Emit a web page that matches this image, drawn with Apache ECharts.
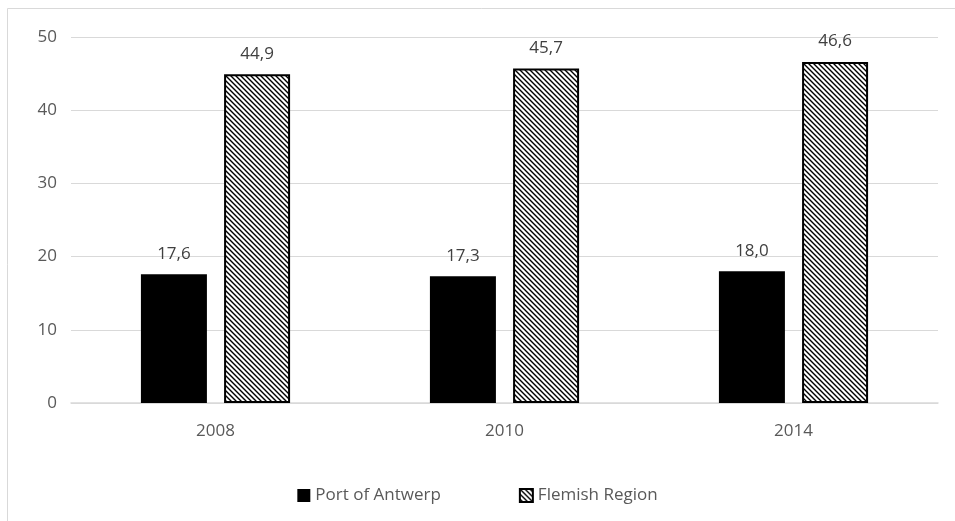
<!DOCTYPE html>
<html>
<head>
<meta charset="utf-8">
<script src="https://cdn.jsdelivr.net/npm/echarts@6/dist/echarts.min.js"></script>
<style>
  html, body { margin: 0; padding: 0; background: #ffffff; }
  #chart { width: 955px; height: 521px; }
</style>
</head>
<body>
<div id="chart"></div>
<script>
const categories = ['2008', '2010', '2014'];
const portOfAntwerp = [17.6, 17.3, 18.0];
const flemishRegion = [44.9, 45.7, 46.6];
const seriesNames = ['Port of Antwerp', 'Flemish Region'];

// Diagonal hatch tile used to fill the regional bars
function makeHatch() {
  const size = 5;
  const c = document.createElement('canvas');
  c.width = size; c.height = size;
  const ctx = c.getContext('2d');
  ctx.fillStyle = '#ffffff';
  ctx.fillRect(0, 0, size, size);
  ctx.strokeStyle = '#000000';
  ctx.lineWidth = 1.4;
  ctx.beginPath();
  ctx.moveTo(-1, -1); ctx.lineTo(size + 1, size + 1);
  ctx.moveTo(-1, size - 1); ctx.lineTo(1, size + 1);
  ctx.moveTo(size - 1, -1); ctx.lineTo(size + 1, 1);
  ctx.stroke();
  return c;
}

const fmt = v => v.toFixed(1).replace('.', ',');
const font = '"Open Sans", "Liberation Sans", sans-serif';
const fs = 17;

const chart = echarts.init(document.getElementById('chart'), null, { renderer: 'canvas' });
chart.setOption({
  animation: false,
  backgroundColor: '#ffffff',
  textStyle: { fontFamily: font },
  graphic: [{
    type: 'polyline',
    shape: { points: [[7.5, 521], [7.5, 8.5], [955, 8.5]] },
    style: { stroke: '#d9d9d9', lineWidth: 1, fill: null },
    silent: true
  }],
  grid: { left: 71, right: 17, top: 37, bottom: 118, containLabel: false },
  legend: {
    data: seriesNames.map(n => ({ name: n, icon: 'rect' })),
    bottom: 12,
    left: 'center',
    itemWidth: 13,
    itemHeight: 13,
    itemGap: 78,
    textStyle: { color: '#595959', fontSize: fs, fontFamily: font }
  },
  xAxis: {
    type: 'category',
    data: categories,
    axisLine: { lineStyle: { color: '#d9d9d9', width: 1.5 } },
    axisTick: { show: false },
    axisLabel: { color: '#595959', fontSize: fs, margin: 20, fontFamily: font }
  },
  yAxis: {
    type: 'value',
    min: 0,
    max: 50,
    interval: 10,
    axisLine: { show: false },
    axisTick: { show: false },
    splitLine: { lineStyle: { color: '#d9d9d9', width: 1.2 } },
    axisLabel: { color: '#595959', fontSize: fs, margin: 14, fontFamily: font }
  },
  series: [
    {
      name: seriesNames[0],
      type: 'bar',
      data: portOfAntwerp,
      barWidth: 66,
      barGap: '26%',
      itemStyle: { color: '#000000' },
      label: {
        show: true, position: 'top', distance: 12,
        color: '#404040', fontSize: fs, fontFamily: font,
        formatter: p => fmt(p.value)
      }
    },
    {
      name: seriesNames[1],
      type: 'bar',
      data: flemishRegion,
      barWidth: 66,
      itemStyle: {
        color: { image: makeHatch(), repeat: 'repeat' },
        borderColor: '#000000',
        borderWidth: 2
      },
      label: {
        show: true, position: 'top', distance: 12,
        color: '#404040', fontSize: fs, fontFamily: font,
        formatter: p => fmt(p.value)
      }
    }
  ]
});
</script>
</body>
</html>
